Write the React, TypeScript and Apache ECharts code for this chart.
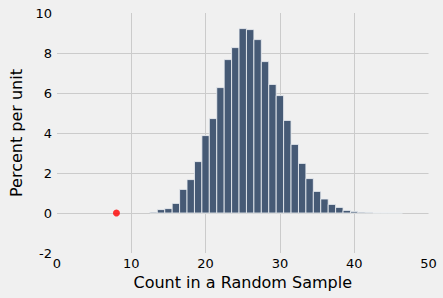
import React, { useEffect, useRef } from "react";
import * as echarts from "echarts";

const binCenters = [13, 14, 15, 16, 17, 18, 19, 20, 21, 22, 23, 24, 25, 26, 27, 28, 29, 30, 31, 32, 33, 34, 35, 36, 37, 38, 39, 40, 41, 42, 43, 44, 45, 46];
const percents = [0.04, 0.17, 0.22, 0.48, 1.18, 1.67, 2.57, 3.87, 4.72, 6.27, 7.67, 8.27, 9.22, 9.17, 8.67, 7.57, 6.43, 5.87, 4.63, 3.43, 2.48, 1.72, 1.08, 0.7, 0.43, 0.28, 0.13, 0.08, 0.04, 0.03, 0, 0, 0, 0];
const binWidth = 1;
const observed = [[8, 0]];
const xTicks = { min: 0, max: 50, interval: 10 };
const yTicks = { min: -2, max: 10, interval: 2 };

export default function App() {
  const ref = useRef<HTMLDivElement>(null);
  useEffect(() => {
    if (!ref.current) return;
    const chart = echarts.init(ref.current, undefined, { renderer: "svg" });
    const font = "DejaVu Sans";
    chart.setOption({
      animation: false,
      backgroundColor: "#f0f0f0",
      grid: { left: 52, right: 14.5, top: 13, bottom: 45 },
      xAxis: {
        type: "value",
        min: xTicks.min,
        max: xTicks.max,
        interval: xTicks.interval,
        name: "Count in a Random Sample",
        nameLocation: "middle",
        nameGap: 21,
        nameTextStyle: { fontFamily: font, fontSize: 16, color: "#000" },
        axisLine: { show: false },
        axisTick: { show: false },
        axisLabel: { fontFamily: font, fontSize: 13, color: "#000", margin: 4 },
        splitLine: { show: true, showMinLine: false, showMaxLine: false, lineStyle: { color: "#cbcbcb", width: 1 } },
      },
      yAxis: {
        type: "value",
        min: yTicks.min,
        max: yTicks.max,
        interval: yTicks.interval,
        name: "Percent per unit",
        nameLocation: "middle",
        nameGap: 33,
        nameTextStyle: { fontFamily: font, fontSize: 16, color: "#000" },
        axisLine: { show: false },
        axisTick: { show: false },
        axisLabel: { fontFamily: font, fontSize: 13, color: "#000", margin: 5 },
        splitLine: { show: true, showMinLine: false, showMaxLine: false, lineStyle: { color: "#cbcbcb", width: 1 } },
      },
      series: [
        {
          type: "custom",
          data: binCenters.map((c, i) => [c, percents[i]]),
          encode: { x: 0, y: 1 },
          renderItem: (params: any, api: any) => {
            const c = api.value(0);
            const v = api.value(1);
            const p1 = api.coord([c - binWidth / 2, v]);
            const p2 = api.coord([c + binWidth / 2, 0]);
            return {
              type: "rect",
              shape: { x: p1[0], y: p1[1], width: p2[0] - p1[0], height: p2[1] - p1[1] },
              style: { fill: "#465a75", stroke: "rgba(235,238,242,0.85)", lineWidth: 1 },
            };
          },
          z: 2,
        },
        {
          type: "scatter",
          data: observed,
          symbolSize: 7,
          itemStyle: { color: "#ff0000" },
          z: 3,
        },
      ],
    });
    return () => chart.dispose();
  }, []);
  return <div ref={ref} style={{ width: 443, height: 298, position: "absolute", left: 0, top: 0 }} />;
}
